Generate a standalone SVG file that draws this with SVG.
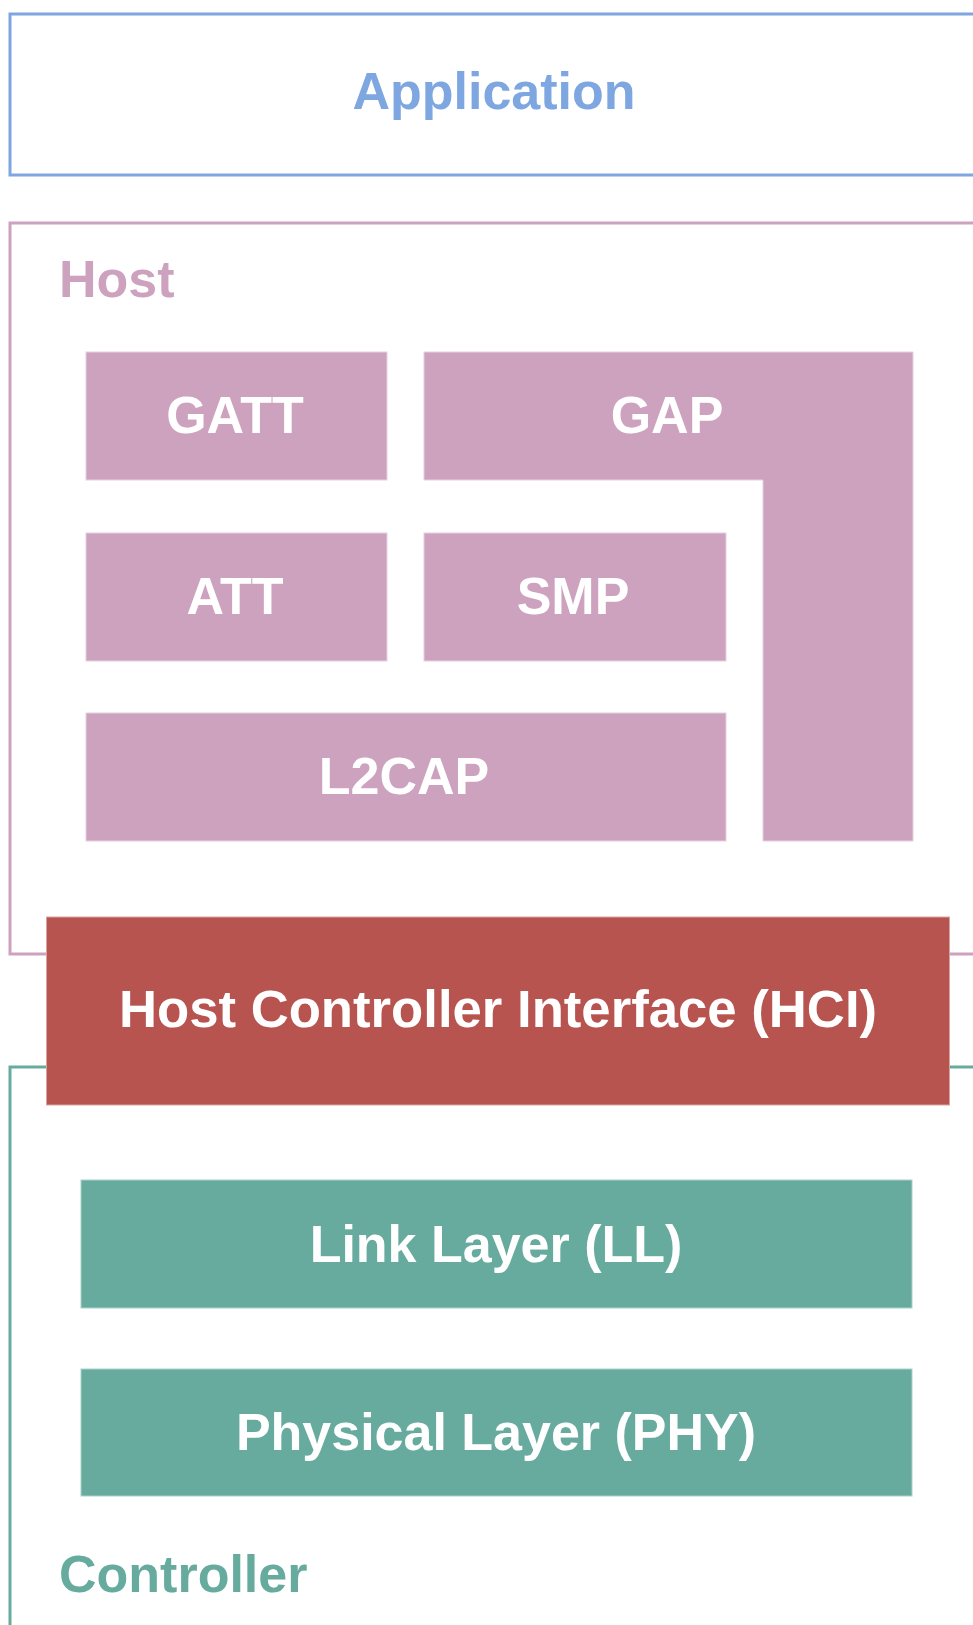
<svg xmlns="http://www.w3.org/2000/svg" width="973" height="1625" viewBox="0 0 973 1625">
<style>
text{font-family:"Liberation Sans",Arial,sans-serif;font-weight:bold;font-size:52px}
.c{text-anchor:middle;fill:#ffffff}
.host{fill:#CDA2BE;stroke:#E6CFDE;stroke-width:1}
.ctrl{fill:#67AB9F;stroke:#A9D2CA;stroke-width:1}
</style>
<rect width="973" height="1625" fill="#ffffff"/>
<g id="application">
<rect x="10" y="14" width="1000" height="161" fill="#ffffff" stroke="#7EA6E0" stroke-width="3"/>
<text x="494" y="109" text-anchor="middle" fill="#7EA6E0">Application</text>
</g>
<g id="host">
<rect x="10" y="223" width="1000" height="731" fill="#ffffff" stroke="#CDA2BE" stroke-width="3"/>
<text x="59" y="297" fill="#CDA2BE">Host</text>
</g>
<g id="controller">
<rect x="10" y="1067" width="1000" height="700" fill="#ffffff" stroke="#67AB9F" stroke-width="3"/>
<text x="59" y="1592" fill="#67AB9F">Controller</text>
</g>
<g id="gatt">
<rect class="host" x="86" y="352" width="301" height="128"/>
<text class="c" x="235" y="433">GATT</text>
</g>
<g id="gap">
<path class="host" d="M424,352 H913 V841 H763 V480 H424 Z"/>
<text class="c" x="667" y="433">GAP</text>
</g>
<g id="att">
<rect class="host" x="86" y="533" width="301" height="128"/>
<text class="c" x="235" y="614">ATT</text>
</g>
<g id="smp">
<rect class="host" x="424" y="533" width="302" height="128"/>
<text class="c" x="573" y="614">SMP</text>
</g>
<g id="l2cap">
<rect class="host" x="86" y="713" width="640" height="128"/>
<text class="c" x="404" y="794">L2CAP</text>
</g>
<g id="hci">
<rect x="46.5" y="917" width="903" height="188" fill="#B85450" stroke="#D9A3A0" stroke-width="1"/>
<text class="c" x="498" y="1027" style="font-size:52.7px">Host Controller Interface (HCI)</text>
</g>
<g id="ll">
<rect class="ctrl" x="81" y="1180" width="831" height="128"/>
<text class="c" x="496" y="1262">Link Layer (LL)</text>
</g>
<g id="phy">
<rect class="ctrl" x="81" y="1369" width="831" height="127"/>
<text class="c" x="496" y="1450">Physical Layer (PHY)</text>
</g>
<g id="connectors"/>
</svg>
